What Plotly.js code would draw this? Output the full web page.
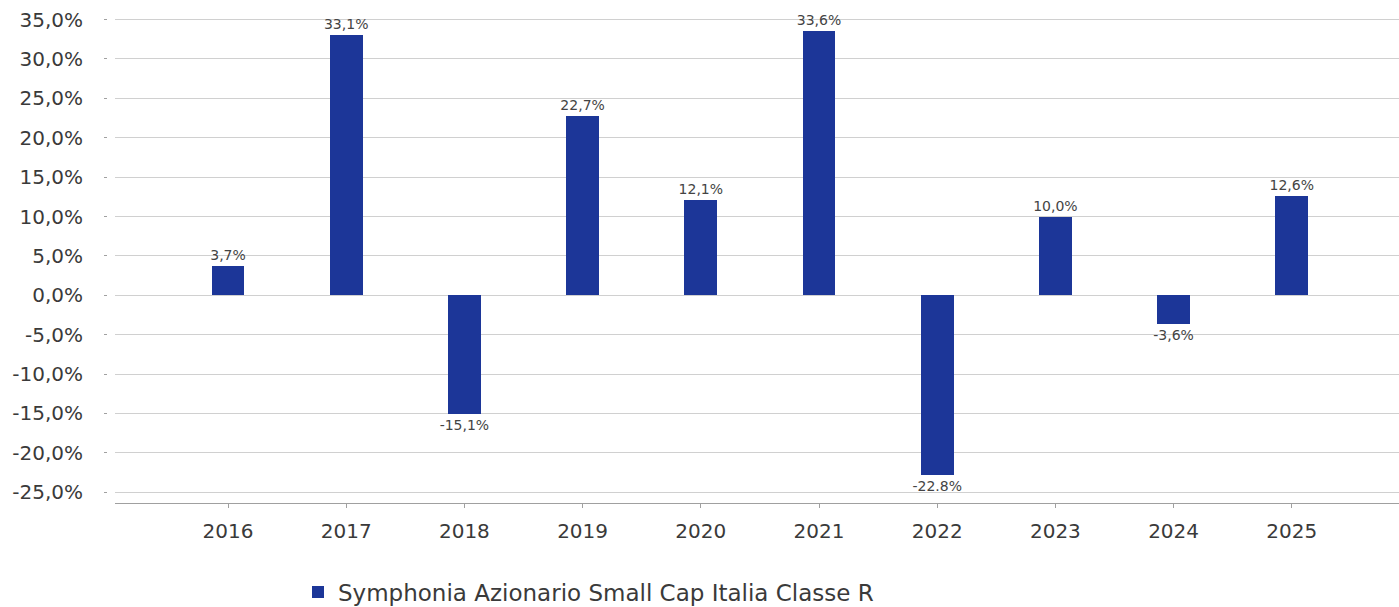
<!DOCTYPE html>
<html>
<head>
<meta charset="utf-8">
<script src="https://cdn.plot.ly/plotly-3.0.1.min.js"></script>
<style>html,body{margin:0;padding:0;background:#fff;}#chart{width:1399px;height:607px;}</style>
</head>
<body>
<div id="chart"></div>
<script>
const years = ['2016','2017','2018','2019','2020','2021','2022','2023','2024','2025'];
const returns = [3.7, 33.1, -15.1, 22.7, 12.1, 33.6, -22.8, 10.0, -3.6, 12.6];
const labels = ['3,7%','33,1%','-15,1%','22,7%','12,1%','33,6%','-22.8%','10,0%','-3,6%','12,6%'];
const tickVals = [35, 30, 25, 20, 15, 10, 5, 0, -5, -10, -15, -20, -25];
const tickText = ['35,0%','30,0%','25,0%','20,0%','15,0%','10,0%','5,0%','0,0%','-5,0%','-10,0%','-15,0%','-20,0%','-25,0%'];
const seriesName = 'Symphonia Azionario Small Cap Italia Classe R';

const FONT = 'DejaVu Sans, sans-serif';
const W = 1399, H = 607;
const L = 107, T = 18, B = H - 503.3;
const plotW = W - L;

const trace = {
  type: 'bar',
  x: years,
  y: returns,
  name: seriesName,
  showlegend: true,
  marker: {color: '#1c3698'},
  width: 0.277,
  text: labels,
  texttemplate: '%{text}',
  textposition: 'outside',
  textfont: {family: FONT, size: 14, color: '#444444'},
  constraintext: 'none',
  cliponaxis: false,
  hoverinfo: 'skip'
};

const layout = {
  width: W, height: H,
  margin: {l: L, r: 0, t: T, b: B, pad: 0, autoexpand: false},
  paper_bgcolor: '#ffffff',
  plot_bgcolor: '#ffffff',
  font: {family: FONT, color: '#3a3a3a'},
  bargap: 0,
  xaxis: {
    type: 'category',
    domain: [(115 - L) / plotW, 1],
    range: [-0.956, 9.907],
    showline: true, linecolor: '#a0a0a0', linewidth: 1,
    ticks: 'outside', ticklen: 4, tickcolor: '#a0a0a0', tickwidth: 1,
    tickfont: {family: FONT, size: 20, color: '#3a3a3a'},
    ticklabelstandoff: 6,
    showgrid: false, zeroline: false, fixedrange: true,
    automargin: false
  },
  yaxis: {
    range: [-26.37, 35.2],
    anchor: 'free', position: 0,
    tickmode: 'array', tickvals: tickVals, ticktext: tickText,
    ticks: 'outside', ticklen: 3, tickcolor: '#a0a0a0', tickwidth: 1,
    ticklabelstandoff: 17,
    tickfont: {family: FONT, size: 20, color: '#3a3a3a'},
    showgrid: true, gridcolor: '#d0d0d0', gridwidth: 1,
    zeroline: false, showline: false, fixedrange: true,
    automargin: false
  },
  legend: {
    orientation: 'h',
    yref: 'container', xref: 'container',
    x: 298 / W, xanchor: 'left',
    y: 1 - 592 / H, yanchor: 'middle',
    font: {family: FONT, size: 23, color: '#3a3a3a'},
    itemwidth: 30
  }
};

Plotly.newPlot('chart', [trace], layout, {displayModeBar: false, staticPlot: true});
</script>
</body>
</html>
